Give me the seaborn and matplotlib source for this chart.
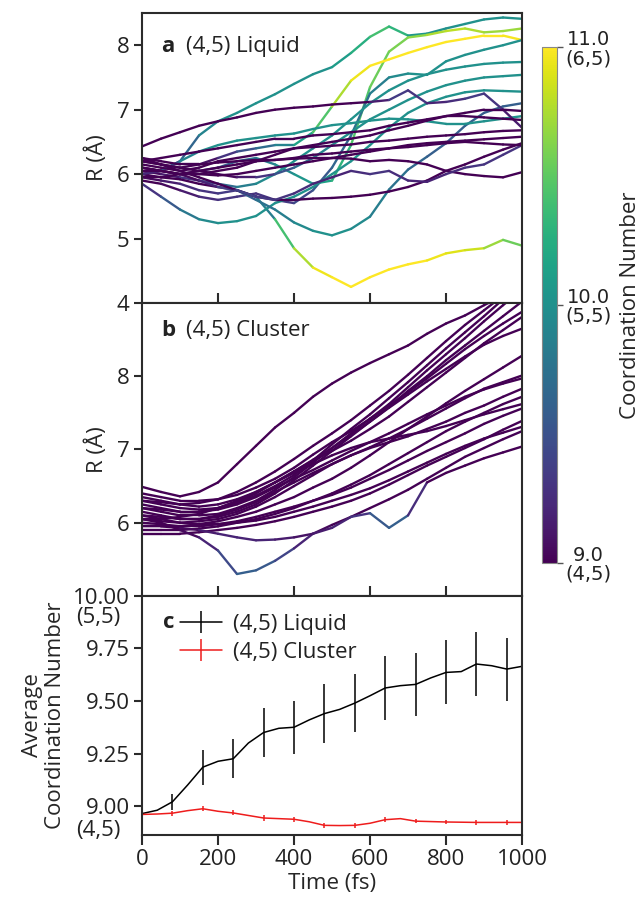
import numpy as np
import pandas as pd
import matplotlib
matplotlib.use("Agg")
import matplotlib.pyplot as plt
import seaborn as sns
from matplotlib.collections import LineCollection
from matplotlib.colors import Normalize
from matplotlib.cm import ScalarMappable
from matplotlib.transforms import blended_transform_factory, ScaledTranslation

# ---------------- data ----------------
time_fs = [0, 50, 100, 150, 200, 250, 300, 350, 400, 450, 500,
           550, 600, 650, 700, 750, 800, 850, 900, 950, 1000]

# panel a : (4,5) Liquid  -- R (Å) and coordination number along time
liq_r_01 = [6.00, 6.05, 6.20, 6.60, 6.82, 6.95, 7.10, 7.24, 7.40, 7.55, 7.66, 7.88, 8.13, 8.29, 8.15, 8.18, 8.26, 8.33, 8.40, 8.43, 8.41]
liq_cn_01 = [9.0, 9.2, 9.5, 9.8, 10.0, 10.0, 10.0, 10.0, 10.0, 10.0, 10.0, 10.2, 10.3, 10.5, 10.1, 10.0, 10.0, 10.0, 10.0, 10.0, 10.0]
liq_r_02 = [6.10, 6.05, 6.00, 6.05, 6.10, 6.20, 6.25, 6.15, 6.00, 5.85, 5.90, 6.45, 7.35, 7.90, 8.12, 8.16, 8.22, 8.26, 8.20, 8.22, 8.26]
liq_cn_02 = [9.0, 9.0, 9.1, 9.3, 9.5, 9.7, 9.8, 9.9, 10.0, 10.1, 10.2, 10.4, 10.5, 10.6, 10.6, 10.7, 10.8, 10.8, 10.7, 10.7, 10.7]
liq_r_03 = [6.20, 6.15, 6.10, 6.15, 6.25, 6.35, 6.40, 6.45, 6.45, 6.65, 7.05, 7.45, 7.68, 7.78, 7.88, 7.97, 8.05, 8.10, 8.15, 8.15, 8.08]
liq_cn_03 = [9.0, 9.0, 9.0, 9.0, 9.2, 9.4, 9.6, 9.8, 10.0, 10.3, 10.6, 10.9, 11.0, 11.0, 11.0, 11.0, 11.0, 11.0, 11.0, 11.0, 10.95]
liq_r_04 = [5.90, 5.85, 5.75, 5.65, 5.60, 5.65, 5.70, 5.60, 5.55, 5.75, 6.10, 6.60, 7.25, 7.50, 7.56, 7.54, 7.75, 7.85, 7.93, 8.00, 8.08]
liq_cn_04 = [9.0, 9.0, 9.1, 9.2, 9.3, 9.3, 9.3, 9.3, 9.4, 9.5, 9.6, 9.7, 9.8, 9.9, 10.0, 10.0, 10.0, 10.0, 10.0, 10.0, 10.0]
liq_r_05 = [6.05, 6.00, 5.95, 5.90, 5.85, 5.80, 5.85, 6.00, 6.20, 6.40, 6.60, 6.85, 7.10, 7.30, 7.45, 7.55, 7.62, 7.67, 7.71, 7.73, 7.74]
liq_cn_05 = [9.0, 9.1, 9.2, 9.4, 9.6, 9.8, 9.9, 10.0, 10.0, 10.0, 10.0, 10.0, 10.0, 10.0, 10.0, 10.0, 10.0, 10.0, 10.0, 10.0, 10.0]
liq_r_06 = [6.00, 5.95, 5.92, 5.85, 5.80, 5.75, 5.65, 5.30, 4.85, 4.55, 4.40, 4.25, 4.40, 4.52, 4.60, 4.66, 4.77, 4.82, 4.85, 4.98, 4.89]
liq_cn_06 = [9.0, 9.0, 9.0, 9.0, 9.0, 9.1, 9.5, 10.2, 10.6, 10.9, 11.0, 11.0, 11.0, 11.0, 11.0, 11.0, 10.9, 10.9, 10.8, 10.6, 10.5]
liq_r_07 = [5.85, 5.65, 5.45, 5.30, 5.24, 5.27, 5.35, 5.55, 5.65, 5.80, 6.00, 6.20, 6.45, 6.72, 6.95, 7.10, 7.20, 7.27, 7.30, 7.29, 7.28]
liq_cn_07 = [9.2, 9.4, 9.7, 9.9, 10.0, 10.0, 10.0, 10.0, 10.0, 10.0, 10.0, 10.0, 10.0, 10.0, 10.0, 10.0, 10.0, 10.0, 10.0, 10.0, 10.0]
liq_r_08 = [6.10, 6.05, 6.00, 5.90, 5.80, 5.75, 5.60, 5.45, 5.25, 5.12, 5.05, 5.15, 5.34, 5.76, 6.07, 6.27, 6.48, 6.75, 6.95, 7.05, 7.10]
liq_cn_08 = [9.0, 9.0, 9.0, 9.1, 9.3, 9.5, 9.7, 9.8, 9.9, 10.0, 10.0, 10.0, 9.9, 9.8, 9.7, 9.6, 9.6, 9.6, 9.6, 9.6, 9.6]
liq_r_09 = [6.00, 6.05, 6.20, 6.35, 6.45, 6.52, 6.56, 6.60, 6.63, 6.70, 6.76, 6.79, 6.83, 6.86, 6.85, 6.82, 6.78, 6.78, 6.82, 6.86, 6.90]
liq_cn_09 = [9.1, 9.4, 9.8, 10.0, 10.0, 10.0, 10.0, 10.0, 10.0, 10.0, 10.0, 10.0, 10.0, 10.0, 10.0, 10.0, 10.0, 10.0, 10.0, 10.0, 10.0]
liq_r_10 = [6.20, 6.15, 6.10, 6.05, 6.00, 5.95, 5.95, 6.00, 6.10, 6.25, 6.45, 6.65, 6.85, 7.00, 7.15, 7.28, 7.38, 7.45, 7.50, 7.52, 7.54]
liq_cn_10 = [9.0, 9.0, 9.0, 9.0, 9.0, 9.1, 9.2, 9.4, 9.6, 9.8, 10.0, 10.0, 10.0, 10.0, 10.0, 10.0, 10.0, 10.0, 10.0, 10.0, 10.0]
liq_r_11 = [6.43, 6.55, 6.65, 6.75, 6.82, 6.88, 6.95, 7.00, 7.03, 7.05, 7.08, 7.10, 7.12, 7.15, 7.30, 7.10, 7.12, 7.17, 7.25, 7.00, 6.72]
liq_cn_11 = [9.0, 9.0, 9.0, 9.0, 9.0, 9.0, 9.0, 9.0, 9.0, 9.0, 9.0, 9.0, 9.0, 9.3, 9.4, 9.2, 9.2, 9.3, 9.4, 9.2, 9.1]
liq_r_12 = [6.25, 6.20, 6.15, 6.15, 6.18, 6.20, 6.22, 6.22, 6.24, 6.25, 6.25, 6.24, 6.20, 6.22, 6.20, 6.15, 6.05, 6.00, 5.97, 5.95, 6.03]
liq_cn_12 = [9.0, 9.0, 9.0, 9.0, 9.0, 9.0, 9.0, 9.0, 9.0, 9.0, 9.0, 9.0, 9.0, 9.0, 9.0, 9.0, 9.0, 9.0, 9.0, 9.0, 9.0]
liq_r_13 = [6.25, 6.15, 6.05, 5.95, 5.85, 5.75, 5.65, 5.60, 5.60, 5.62, 5.63, 5.65, 5.68, 5.73, 5.80, 5.90, 6.05, 6.15, 6.27, 6.38, 6.48]
liq_cn_13 = [9.0, 9.0, 9.0, 9.0, 9.0, 9.0, 9.0, 9.0, 9.0, 9.0, 9.0, 9.0, 9.0, 9.0, 9.0, 9.0, 9.0, 9.0, 9.0, 9.0, 9.0]
liq_r_14 = [5.95, 5.90, 5.85, 5.75, 5.70, 5.75, 5.65, 5.60, 5.70, 5.85, 5.95, 6.05, 6.00, 6.05, 5.90, 5.88, 6.00, 6.10, 6.15, 6.30, 6.45]
liq_cn_14 = [9.0, 9.1, 9.2, 9.3, 9.3, 9.4, 9.4, 9.3, 9.3, 9.2, 9.2, 9.2, 9.3, 9.3, 9.2, 9.2, 9.2, 9.3, 9.3, 9.3, 9.3]
liq_r_15 = [6.05, 6.05, 6.00, 6.00, 5.98, 6.00, 6.05, 6.10, 6.15, 6.20, 6.25, 6.30, 6.35, 6.40, 6.45, 6.48, 6.50, 6.52, 6.54, 6.56, 6.58]
liq_cn_15 = [9.0, 9.0, 9.0, 9.0, 9.0, 9.0, 9.0, 9.0, 9.0, 9.0, 9.0, 9.0, 9.0, 9.0, 9.0, 9.0, 9.0, 9.0, 9.0, 9.0, 9.0]
liq_r_16 = [6.15, 6.10, 6.05, 6.10, 6.20, 6.25, 6.30, 6.35, 6.40, 6.42, 6.44, 6.46, 6.50, 6.52, 6.55, 6.58, 6.60, 6.62, 6.65, 6.67, 6.68]
liq_cn_16 = [9.0, 9.0, 9.0, 9.0, 9.0, 9.0, 9.0, 9.0, 9.0, 9.0, 9.0, 9.0, 9.0, 9.0, 9.0, 9.0, 9.0, 9.0, 9.0, 9.0, 9.0]
liq_r_17 = [6.20, 6.25, 6.30, 6.35, 6.40, 6.45, 6.50, 6.55, 6.55, 6.60, 6.62, 6.65, 6.68, 6.75, 6.80, 6.85, 6.90, 6.90, 6.88, 6.86, 6.84]
liq_cn_17 = [9.0, 9.0, 9.0, 9.0, 9.0, 9.0, 9.0, 9.0, 9.0, 9.0, 9.0, 9.0, 9.0, 9.0, 9.0, 9.0, 9.0, 9.0, 9.0, 9.0, 9.0]
liq_r_18 = [5.95, 5.95, 6.00, 6.05, 6.10, 6.15, 6.20, 6.22, 6.25, 6.30, 6.32, 6.35, 6.38, 6.40, 6.42, 6.45, 6.48, 6.50, 6.48, 6.46, 6.45]
liq_cn_18 = [9.0, 9.0, 9.0, 9.0, 9.0, 9.0, 9.0, 9.0, 9.0, 9.0, 9.0, 9.0, 9.0, 9.0, 9.0, 9.0, 9.0, 9.0, 9.0, 9.0, 9.0]
liq_r_19 = [6.10, 6.05, 6.00, 6.00, 6.05, 6.10, 6.20, 6.30, 6.40, 6.45, 6.50, 6.55, 6.60, 6.68, 6.75, 6.83, 6.90, 6.95, 7.00, 7.00, 6.98]
liq_cn_19 = [9.0, 9.0, 9.0, 9.0, 9.0, 9.0, 9.0, 9.0, 9.0, 9.0, 9.0, 9.0, 9.0, 9.0, 9.0, 9.0, 9.0, 9.0, 9.0, 9.0, 9.0]

# panel b : (4,5) Cluster
clu_r_01 = [6.49, 6.42, 6.36, 6.42, 6.55, 6.80, 7.05, 7.30, 7.50, 7.72, 7.90, 8.05, 8.18, 8.30, 8.42, 8.58, 8.72, 8.83, 8.97, 9.10, 9.20]
clu_r_02 = [6.30, 6.25, 6.20, 6.18, 6.20, 6.27, 6.37, 6.50, 6.65, 6.85, 7.07, 7.28, 7.48, 7.70, 7.92, 8.15, 8.38, 8.60, 8.82, 9.05, 9.25]
clu_r_03 = [6.20, 6.15, 6.10, 6.10, 6.12, 6.20, 6.30, 6.45, 6.62, 6.82, 7.02, 7.22, 7.42, 7.62, 7.85, 8.08, 8.30, 8.52, 8.75, 8.97, 9.18]
clu_r_04 = [6.10, 6.08, 6.05, 6.05, 6.08, 6.15, 6.25, 6.40, 6.58, 6.78, 6.98, 7.18, 7.38, 7.58, 7.80, 8.00, 8.22, 8.42, 8.62, 8.82, 9.02]
clu_r_05 = [6.40, 6.35, 6.30, 6.30, 6.32, 6.38, 6.48, 6.60, 6.75, 6.93, 7.10, 7.25, 7.42, 7.60, 7.78, 7.97, 8.17, 8.37, 8.55, 8.72, 8.88]
clu_r_06 = [6.25, 6.20, 6.15, 6.15, 6.20, 6.28, 6.40, 6.55, 6.70, 6.85, 6.98, 7.12, 7.28, 7.45, 7.65, 7.85, 8.05, 8.25, 8.45, 8.63, 8.81]
clu_r_07 = [5.95, 5.95, 5.95, 5.98, 6.02, 6.08, 6.15, 6.25, 6.35, 6.48, 6.60, 6.75, 6.92, 7.10, 7.28, 7.45, 7.63, 7.80, 7.96, 8.12, 8.28]
clu_r_08 = [6.15, 6.10, 6.05, 6.05, 6.10, 6.18, 6.28, 6.42, 6.55, 6.68, 6.80, 6.92, 7.03, 7.15, 7.28, 7.42, 7.56, 7.70, 7.83, 7.92, 8.01]
clu_r_09 = [6.05, 6.02, 6.00, 6.02, 6.05, 6.12, 6.22, 6.35, 6.50, 6.65, 6.80, 6.92, 7.02, 7.10, 7.18, 7.28, 7.38, 7.50, 7.60, 7.72, 7.83]
clu_r_10 = [5.90, 5.90, 5.90, 5.92, 5.95, 6.00, 6.05, 6.12, 6.20, 6.30, 6.40, 6.52, 6.65, 6.80, 6.95, 7.10, 7.25, 7.38, 7.50, 7.62, 7.72]
clu_r_11 = [6.35, 6.30, 6.25, 6.22, 6.25, 6.32, 6.42, 6.55, 6.68, 6.80, 6.92, 7.02, 7.10, 7.15, 7.20, 7.25, 7.32, 7.40, 7.48, 7.55, 7.62]
clu_r_12 = [6.00, 5.98, 5.95, 5.95, 5.98, 6.02, 6.08, 6.15, 6.22, 6.30, 6.38, 6.48, 6.60, 6.72, 6.85, 6.98, 7.10, 7.22, 7.35, 7.46, 7.56]
clu_r_13 = [5.85, 5.85, 5.85, 5.87, 5.90, 5.93, 5.97, 6.02, 6.08, 6.15, 6.22, 6.30, 6.40, 6.52, 6.65, 6.78, 6.90, 7.02, 7.14, 7.27, 7.39]
clu_r_14 = [6.10, 6.05, 6.00, 5.98, 5.98, 6.00, 6.03, 6.08, 6.15, 6.22, 6.30, 6.38, 6.47, 6.58, 6.70, 6.82, 6.94, 7.05, 7.15, 7.23, 7.31]
clu_r_15 = [6.05, 6.00, 5.90, 5.80, 5.62, 5.30, 5.35, 5.48, 5.65, 5.85, 5.97, 6.08, 6.20, 6.32, 6.45, 6.60, 6.75, 6.90, 7.02, 7.14, 7.25]
clu_r_16 = [5.95, 5.95, 5.93, 5.90, 5.85, 5.80, 5.76, 5.77, 5.80, 5.85, 5.93, 6.08, 6.13, 5.93, 6.10, 6.55, 6.68, 6.78, 6.88, 6.96, 7.04]
clu_r_17 = [6.20, 6.18, 6.15, 6.15, 6.18, 6.25, 6.35, 6.48, 6.60, 6.72, 6.85, 6.98, 7.10, 7.22, 7.35, 7.48, 7.60, 7.72, 7.82, 7.90, 7.97]
clu_r_18 = [6.05, 6.05, 6.08, 6.12, 6.20, 6.30, 6.42, 6.55, 6.70, 6.86, 7.02, 7.20, 7.38, 7.57, 7.75, 7.93, 8.10, 8.27, 8.43, 8.55, 8.65]
clu_r_19 = [6.30, 6.28, 6.25, 6.27, 6.32, 6.42, 6.55, 6.70, 6.87, 7.05, 7.22, 7.40, 7.60, 7.80, 8.02, 8.25, 8.48, 8.70, 8.90, 9.10, 9.30]
clu_cn_base = [9.0, 9.0, 9.0, 9.0, 9.0, 9.0, 9.0, 9.0, 9.0, 9.0, 9.0, 9.0, 9.0, 9.0, 9.0, 9.0, 9.0, 9.0, 9.0, 9.0, 9.0]
clu_cn_15 = [9.0, 9.0, 9.0, 9.1, 9.3, 9.6, 9.6, 9.5, 9.3, 9.1, 9.0, 9.0, 9.0, 9.0, 9.0, 9.0, 9.0, 9.0, 9.0, 9.0, 9.0]
clu_cn_16 = [9.0, 9.0, 9.0, 9.1, 9.2, 9.2, 9.2, 9.2, 9.1, 9.1, 9.2, 9.2, 9.4, 9.7, 9.5, 9.0, 9.0, 9.0, 9.0, 9.0, 9.0]

# panel c : average coordination number
avg_time_fs = [0, 40, 80, 120, 160, 200, 240, 280, 320, 360, 400, 440, 480,
               520, 560, 600, 640, 680, 720, 760, 800, 840, 880, 920, 960, 1000]
avg_liquid = [8.964, 8.980, 9.020, 9.100, 9.185, 9.213, 9.225, 9.300, 9.350, 9.370, 9.375, 9.410, 9.440,
              9.460, 9.490, 9.525, 9.562, 9.573, 9.579, 9.610, 9.636, 9.640, 9.676, 9.668, 9.652, 9.665]
avg_cluster = [8.960, 8.962, 8.966, 8.978, 8.987, 8.975, 8.967, 8.955, 8.943, 8.940, 8.937, 8.925, 8.908,
               8.907, 8.908, 8.918, 8.935, 8.940, 8.928, 8.926, 8.924, 8.923, 8.922, 8.922, 8.922, 8.922]
err_time_fs = [80, 160, 240, 320, 400, 480, 560, 640, 720, 800, 880, 960]
err_liquid = [0.038, 0.083, 0.093, 0.118, 0.127, 0.140, 0.138, 0.152, 0.149, 0.152, 0.153, 0.150]
err_cluster = [0.012, 0.012, 0.012, 0.012, 0.012, 0.012, 0.012, 0.012, 0.010, 0.010, 0.010, 0.010]

cbar_ticks = [9.0, 10.0, 11.0]
cbar_ticklabels = ["9.0\n(4,5)", "10.0\n(5,5)", "11.0\n(6,5)"]
c_yticks = [9.0, 9.25, 9.5, 9.75, 10.0]
c_yticklabels = ["9.00", "9.25", "9.50", "9.75", "10.00"]

liquid_r = [liq_r_01, liq_r_02, liq_r_03, liq_r_04, liq_r_05, liq_r_06, liq_r_07, liq_r_08, liq_r_09, liq_r_10,
            liq_r_11, liq_r_12, liq_r_13, liq_r_14, liq_r_15, liq_r_16, liq_r_17, liq_r_18, liq_r_19]
liquid_cn = [liq_cn_01, liq_cn_02, liq_cn_03, liq_cn_04, liq_cn_05, liq_cn_06, liq_cn_07, liq_cn_08, liq_cn_09, liq_cn_10,
             liq_cn_11, liq_cn_12, liq_cn_13, liq_cn_14, liq_cn_15, liq_cn_16, liq_cn_17, liq_cn_18, liq_cn_19]
cluster_r = [clu_r_01, clu_r_02, clu_r_03, clu_r_04, clu_r_05, clu_r_06, clu_r_07, clu_r_08, clu_r_09, clu_r_10,
             clu_r_11, clu_r_12, clu_r_13, clu_r_14, clu_r_15, clu_r_16, clu_r_17, clu_r_18, clu_r_19]
cluster_cn = [clu_cn_base] * 14 + [clu_cn_15, clu_cn_16] + [clu_cn_base] * 3

# ---------------- style ----------------
sns.set_theme(style="ticks")
plt.rcParams["font.family"] = ["Open Sans", "DejaVu Sans"]
plt.rcParams["axes.edgecolor"] = "#2b2b2b"
plt.rcParams["xtick.color"] = "#2b2b2b"
plt.rcParams["ytick.color"] = "#2b2b2b"
plt.rcParams["text.color"] = "#222222"
plt.rcParams["xtick.labelcolor"] = "#222222"
plt.rcParams["ytick.labelcolor"] = "#222222"
FS = 16

fig = plt.figure(figsize=(6.42, 8.97), dpi=100)
ax_a = fig.add_axes([0.2212, 0.6622, 0.5919, 0.3233])
ax_b = fig.add_axes([0.2212, 0.3356, 0.5919, 0.3266])
ax_c = fig.add_axes([0.2212, 0.0691, 0.5919, 0.2665])
cax = fig.add_axes([0.8443, 0.3724, 0.0234, 0.5752])

norm = Normalize(vmin=9.0, vmax=11.0)
cmap = plt.get_cmap("viridis")


def draw_traj(ax, r_sets, cn_sets):
    for r, cn in zip(r_sets, cn_sets):
        pts = np.column_stack([time_fs, r])
        segs = np.stack([pts[:-1], pts[1:]], axis=1)
        cn = np.asarray(cn, dtype=float)
        lc = LineCollection(segs, cmap=cmap, norm=norm, linewidths=1.7,
                            capstyle="round", joinstyle="round")
        lc.set_array((cn[:-1] + cn[1:]) / 2)
        ax.add_collection(lc)


draw_traj(ax_a, liquid_r, liquid_cn)
draw_traj(ax_b, cluster_r, cluster_cn)

for ax in (ax_a, ax_b, ax_c):
    ax.set_xlim(0, 1000)
    for s in ax.spines.values():
        s.set_visible(True)
        s.set_linewidth(1.5)
    ax.tick_params(axis="y", direction="out", length=6, width=1.5, labelsize=FS, pad=3)

ax_a.set_ylim(4, 8.5)
ax_a.set_yticks([4, 5, 6, 7, 8])
ax_b.set_ylim(5, 9)
ax_b.set_yticks([6, 7, 8])
for ax in (ax_a, ax_b):
    ax.set_xticks([200, 400, 600, 800])
    ax.tick_params(axis="x", direction="in", length=7, width=1.5, labelbottom=False)
    ax.set_ylabel("R (Å)", fontsize=FS)
    ax.yaxis.set_label_coords(-0.09, 0.5)

ax_a.text(0.05, 0.885, "a", transform=ax_a.transAxes, fontsize=FS, fontweight="bold", va="center")
ax_a.text(0.115, 0.885, "(4,5) Liquid", transform=ax_a.transAxes, fontsize=FS, va="center")
ax_b.text(0.05, 0.905, "b", transform=ax_b.transAxes, fontsize=FS, fontweight="bold", va="center")
ax_b.text(0.115, 0.905, "(4,5) Cluster", transform=ax_b.transAxes, fontsize=FS, va="center")

# panel c
df_liq = pd.DataFrame({"time": avg_time_fs, "cn": avg_liquid})
df_clu = pd.DataFrame({"time": avg_time_fs, "cn": avg_cluster})
sns.lineplot(data=df_liq, x="time", y="cn", color="black", lw=1.1, ax=ax_c)
sns.lineplot(data=df_clu, x="time", y="cn", color="#ee1c1c", lw=1.1, ax=ax_c)
ax_c.errorbar(err_time_fs, df_liq.set_index("time").loc[err_time_fs, "cn"], yerr=err_liquid,
              fmt="none", ecolor="black", elinewidth=1.1, capsize=0)
ax_c.errorbar(err_time_fs, df_clu.set_index("time").loc[err_time_fs, "cn"], yerr=err_cluster,
              fmt="none", ecolor="#ee1c1c", elinewidth=1.1, capsize=0)
# legend proxies (line + vertical error bar), no visible data
proxy_liq = ax_c.errorbar([np.nan], [np.nan], yerr=[0.1], color="black", lw=1.1,
                          elinewidth=1.1, capsize=0, label="(4,5) Liquid")
proxy_clu = ax_c.errorbar([np.nan], [np.nan], yerr=[0.1], color="#ee1c1c", lw=1.1,
                          elinewidth=1.1, capsize=0, label="(4,5) Cluster")

ax_c.set_ylim(8.862, 10.0)
ax_c.set_yticks(c_yticks)
ax_c.set_yticklabels(c_yticklabels)
ax_c.set_xticks([0, 200, 400, 600, 800, 1000])
ax_c.tick_params(axis="x", direction="out", length=7, width=1.5, labelsize=FS, pad=3)
ax_c.set_xlabel("Time (fs)", fontsize=FS, labelpad=2)
ax_c.set_ylabel("Average\nCoordination Number", fontsize=FS, linespacing=1.1)
ax_c.yaxis.label.set_multialignment("center")
ax_c.yaxis.set_label_coords(-0.2, 0.5)

off = blended_transform_factory(ax_c.transAxes, ax_c.transData)
ax_c.text(-0.115, 10.0, "(5,5)", transform=off + ScaledTranslation(0, -0.22, fig.dpi_scale_trans),
          fontsize=FS, ha="center", va="center")
ax_c.text(-0.115, 9.0, "(4,5)", transform=off + ScaledTranslation(0, -0.24, fig.dpi_scale_trans),
          fontsize=FS, ha="center", va="center")

ax_c.text(0.055, 0.89, "c", transform=ax_c.transAxes, fontsize=FS, fontweight="bold", va="center")
ax_c.legend(handles=[proxy_liq, proxy_clu], labels=["(4,5) Liquid", "(4,5) Cluster"],
            loc="upper left", bbox_to_anchor=(0.1, 0.925), frameon=False, fontsize=FS,
            handlelength=1.9, handletextpad=0.5, labelspacing=0.3, borderpad=0, borderaxespad=0)

# colorbar
cb = fig.colorbar(ScalarMappable(norm=norm, cmap=cmap), cax=cax)
cb.set_ticks(cbar_ticks)
cb.set_ticklabels(cbar_ticklabels)
cb.outline.set_edgecolor("#888888")
cb.outline.set_linewidth(0.8)
cax.tick_params(axis="y", length=4, width=1, color="#555555", pad=2)
for lbl in cax.get_yticklabels():
    lbl.set_fontfamily("DejaVu Sans")
    lbl.set_fontsize(14)
    lbl.set_multialignment("center")
    lbl.set_linespacing(1.0)
cb.set_label("Coordination Number", fontsize=FS)
cax.yaxis.set_label_coords(5.2, 0.5)

fig.savefig("out.png", dpi=100)
